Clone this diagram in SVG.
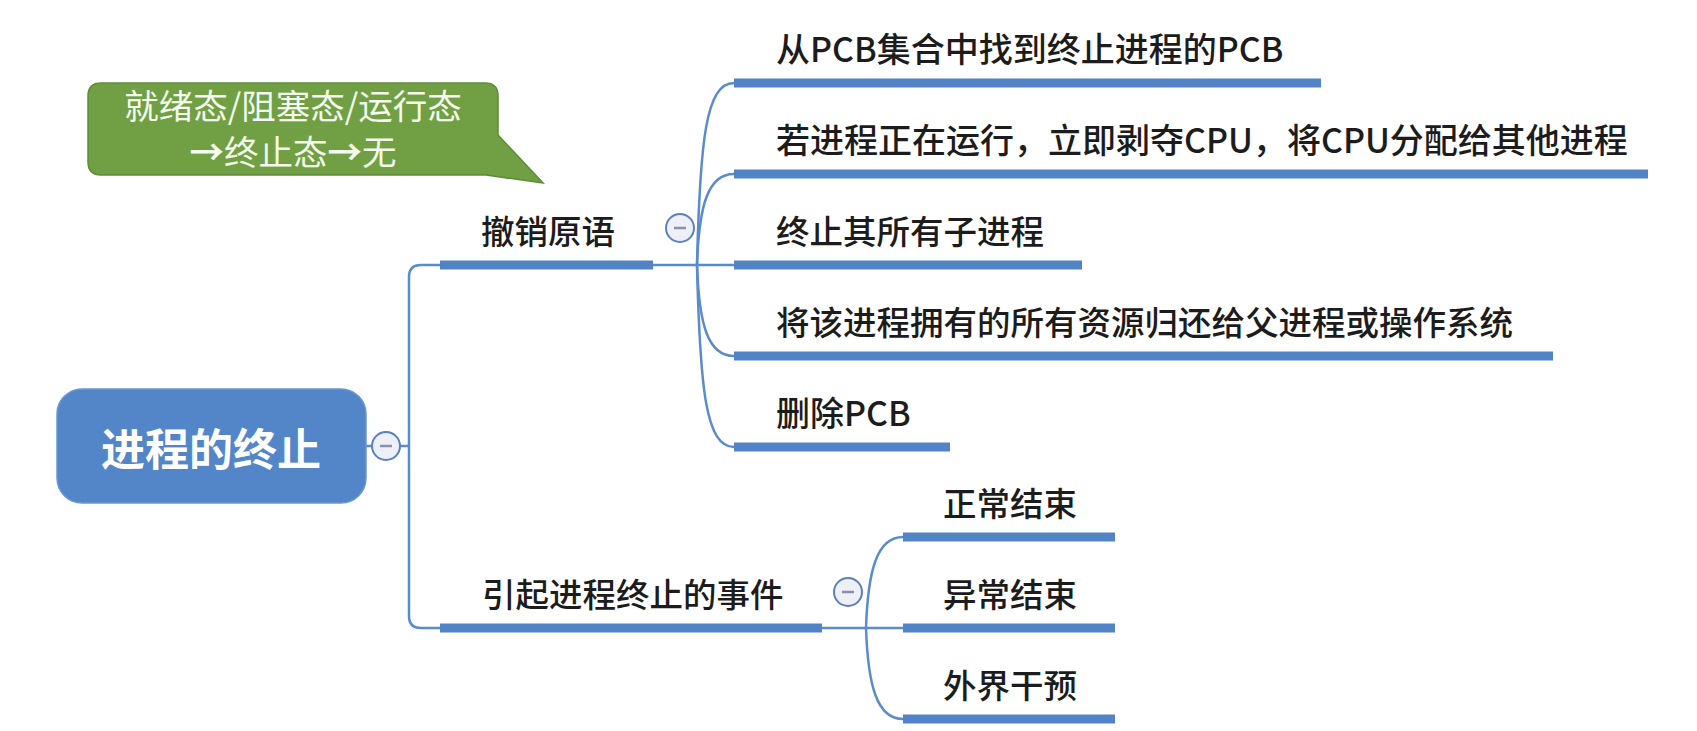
<svg xmlns="http://www.w3.org/2000/svg" width="1697" height="731" viewBox="0 0 1697 731">
<style>
.t{font-family:"Noto Sans CJK SC","Noto Sans",sans-serif;font-size:33.5px;font-weight:500;fill:#1c1c1c}
.tl{font-size:34px}
.bar{stroke:#5283c7;stroke-width:9;stroke-linecap:butt;fill:none}
.ln{stroke:#5a8bcc;stroke-width:2.5;fill:none}
.tg circle{fill:#eef0f7;stroke:#5b7fbf;stroke-width:2}
.tg line{stroke:#8a90aa;stroke-width:2.5}
.ct{font-family:"Noto Sans CJK SC",sans-serif;font-size:34.5px;fill:#f5f9ee}
</style>
<rect width="1697" height="731" fill="#ffffff"/>
<g id="connectors">
<path class="ln" d="M366,446 H372 M400,446 H409"/>
<path class="ln" d="M440,265 H421 Q409,265 409,277 V616 Q409,628 421,628 H440"/>
<path class="ln" d="M653,265 H697"/>
<path class="ln" d="M697,265 C700,140 706,83 734,83"/>
<path class="ln" d="M697,265 C699,205 708,174 734,174"/>
<path class="ln" d="M697,265 H734"/>
<path class="ln" d="M697,265 C699,325 708,356 734,356"/>
<path class="ln" d="M697,265 C700,390 706,447 734,447"/>
<path class="ln" d="M822,628 H866"/>
<path class="ln" d="M866,628 C868,570 877,537 903,537"/>
<path class="ln" d="M866,628 H903"/>
<path class="ln" d="M866,628 C868,686 877,719 903,719"/>
</g>
<g id="callout">
<path d="M101,83 H485 Q498,83 498,96 V135 L543,183 L486,175 H101 Q88,175 88,162 V96 Q88,83 101,83 Z" fill="#70a043" stroke="#5f8c37" stroke-width="1.5"/>
<text class="ct" x="293" y="119" text-anchor="middle">就绪态/阻塞态/运行态</text>
<text class="ct" x="293" y="165" text-anchor="middle"><tspan font-weight="bold">→</tspan>终止态<tspan font-weight="bold">→</tspan>无</text>
</g>
<g id="root">
<rect x="57" y="389" width="309" height="114" rx="25" fill="#5386c8" stroke="#6b97d2" stroke-width="1.5"/>
<text x="211" y="466" text-anchor="middle" font-family="Noto Sans CJK SC,sans-serif" font-size="44" font-weight="bold" fill="#ffffff">进程的终止</text>
<g class="tg"><circle cx="386" cy="446" r="14"/><line x1="380" y1="446" x2="392" y2="446"/></g>
</g>
<g id="revoke">
<line class="bar" x1="440" y1="265" x2="653" y2="265"/>
<text class="t" x="481" y="244">撤销原语</text>
<g class="tg"><circle cx="680" cy="228" r="14"/><line x1="674" y1="228" x2="686" y2="228"/></g>
</g>
<g id="r1"><line class="bar" x1="734" y1="83" x2="1321" y2="83"/><text class="t tl" x="776" y="62">从PCB集合中找到终止进程的PCB</text></g>
<g id="r2"><line class="bar" x1="734" y1="174" x2="1648" y2="174"/><text class="t tl" x="776" y="153">若进程正在运行，立即剥夺CPU，将CPU分配给其他进程</text></g>
<g id="r3"><line class="bar" x1="734" y1="265" x2="1082" y2="265"/><text class="t" x="776" y="244">终止其所有子进程</text></g>
<g id="r4"><line class="bar" x1="734" y1="356" x2="1553" y2="356"/><text class="t" x="776" y="335">将该进程拥有的所有资源归还给父进程或操作系统</text></g>
<g id="r5"><line class="bar" x1="734" y1="447" x2="950" y2="447"/><text class="t tl" x="776" y="426">删除PCB</text></g>
<g id="events">
<line class="bar" x1="440" y1="628" x2="822" y2="628"/>
<text class="t" x="482" y="607">引起进程终止的事件</text>
<g class="tg"><circle cx="848" cy="592" r="14"/><line x1="842" y1="592" x2="854" y2="592"/></g>
</g>
<g id="e1"><line class="bar" x1="903" y1="537" x2="1115" y2="537"/><text class="t" x="943" y="516">正常结束</text></g>
<g id="e2"><line class="bar" x1="903" y1="628" x2="1115" y2="628"/><text class="t" x="943" y="607">异常结束</text></g>
<g id="e3"><line class="bar" x1="903" y1="719" x2="1115" y2="719"/><text class="t" x="943" y="698">外界干预</text></g>
</svg>
